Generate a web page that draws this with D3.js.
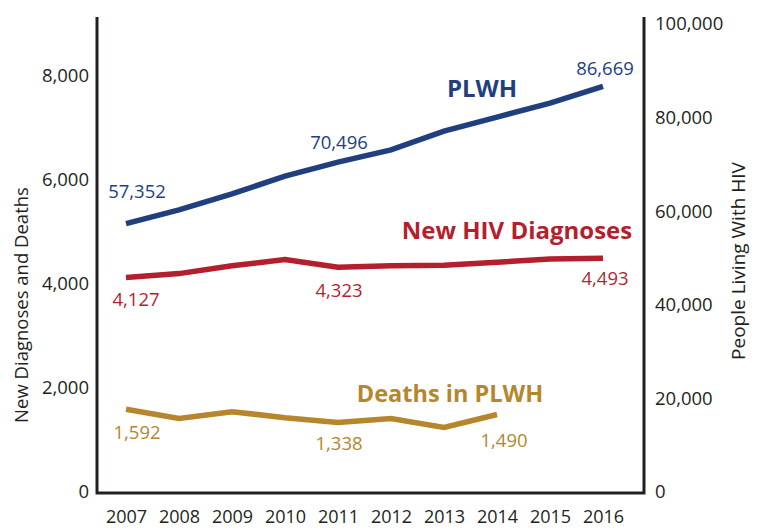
<!DOCTYPE html>
<html><head><meta charset="utf-8">
<script src="https://cdn.jsdelivr.net/npm/d3@7"></script>
<style>body{margin:0;background:#fff;} text{font-family:"Open Sans",sans-serif;}</style>
</head><body>
<svg id="c" width="761" height="529"></svg>
<script>
const years = [2007,2008,2009,2010,2011,2012,2013,2014,2015,2016];
const plwh = [57352,60300,63700,67500,70496,73100,77100,80100,83100,86669];
const diagnoses = [4127,4200,4350,4470,4323,4350,4360,4420,4480,4493];
const deathYears = [2007,2008,2009,2010,2011,2012,2013,2014];
const deaths = [1592,1415,1545,1430,1338,1415,1240,1490];
const leftTicks = [0,2000,4000,6000,8000];
const rightTicks = [0,20000,40000,60000,80000,100000];

const svg = d3.select("#c");
const axisCol = "#231f20";
const cBlue = "#213f7f", cRed = "#b41f2e", cGold = "#b5862b";

const x = d3.scalePoint().domain(years).range([126, 603]);
const yL = d3.scaleLinear().domain([0, 9000]).range([492, 24]);
const yR = d3.scaleLinear().domain([0, 100000]).range([492, 24]);
const fmt = d3.format(",");

// axes spines
svg.append("path").attr("d","M97,17V493H644V17").attr("fill","none").attr("stroke",axisCol).attr("stroke-width",3);

const gl = svg.append("g").attr("transform","translate(89,0)")
  .call(d3.axisLeft(yL).tickValues(leftTicks).tickSize(0).tickPadding(0).tickFormat(fmt));
const gr = svg.append("g").attr("transform","translate(655,0)")
  .call(d3.axisRight(yR).tickValues(rightTicks).tickSize(0).tickPadding(0).tickFormat(fmt));
const gb = svg.append("g").attr("transform","translate(0,510)")
  .call(d3.axisBottom(x).tickSize(0).tickPadding(0));
[gl,gr,gb].forEach(g=>{
  g.select(".domain").remove();
  g.selectAll("text").attr("font-family","Open Sans").attr("font-size",18.5).attr("fill",axisCol);
});
gb.selectAll("text").attr("dy","0.71em").attr("font-size",18);

svg.append("text").attr("transform","translate(28,305) rotate(-90)").attr("text-anchor","middle")
  .attr("font-size",18.5).attr("fill",axisCol).text("New Diagnoses and Deaths");
svg.append("text").attr("transform","translate(745,261) rotate(-90)").attr("text-anchor","middle")
  .attr("font-size",19).attr("fill",axisCol).text("People Living With HIV");

const line = (xs, ys, y) => d3.line().x((d,i)=>x(xs[i])).y(d=>y(d))(ys);
svg.append("path").attr("d", line(years, plwh, yR)).attr("fill","none").attr("stroke",cBlue).attr("stroke-width",5.5);
svg.append("path").attr("d", line(years, diagnoses, yL)).attr("fill","none").attr("stroke",cRed).attr("stroke-width",5.5);
svg.append("path").attr("d", line(deathYears, deaths, yL)).attr("fill","none").attr("stroke",cGold).attr("stroke-width",5.5);

function lab(t, cx, cy, col, size, bold){
  svg.append("text").attr("x",cx).attr("y",cy).attr("dy","0.35em").attr("text-anchor","middle")
    .attr("font-size",size).attr("font-weight",bold?"bold":"normal").attr("fill",col).text(t);
}
lab(fmt(plwh[0]), 137, 192, cBlue, 18.5);
lab(fmt(plwh[4]), 339, 143, cBlue, 18.5);
lab(fmt(plwh[9]), 605, 69, cBlue, 18.5);
lab("PLWH", 482, 89, cBlue, 24, true);
lab(fmt(diagnoses[0]), 136, 300, cRed, 18.5);
lab(fmt(diagnoses[4]), 339, 291, cRed, 18.5);
lab(fmt(diagnoses[9]), 605, 279, cRed, 18.5);
lab("New HIV Diagnoses", 517, 231, cRed, 24, true);
lab(fmt(deaths[0]), 137, 433, cGold, 18.5);
lab(fmt(deaths[4]), 339, 444, cGold, 18.5);
lab(fmt(deaths[7]), 504, 441, cGold, 18.5);
lab("Deaths in PLWH", 450, 394, cGold, 23.5, true);
</script>
</body></html>
